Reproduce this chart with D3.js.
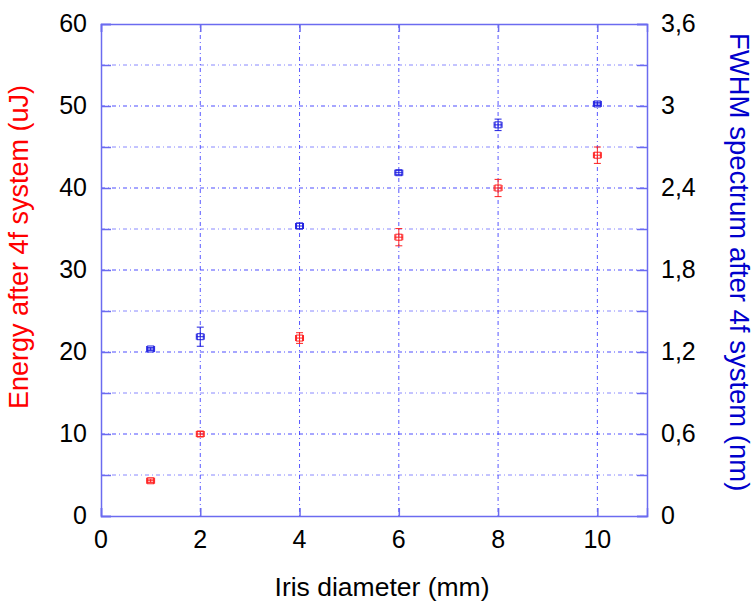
<!DOCTYPE html>
<html><head><meta charset="utf-8">
<script src="https://cdn.jsdelivr.net/npm/d3@7"></script>
<style>body{margin:0;background:#fff}</style>
</head><body>
<script>
const xVals = [1, 2, 4, 6, 8, 10];
const energy = [4.3, 10.0, 21.7, 34.0, 40.0, 44.0];
const energyErr = [0.2, 0.3, 0.65, 1.05, 1.05, 1.0];
const fwhm = [1.222, 1.312, 2.122, 2.512, 2.862, 3.015];
const fwhmErr = [0.01, 0.07, 0.02, 0.015, 0.042, 0.012];
const xErr = [0.08, 0.08, 0.08, 0.08, 0.08, 0.08];
const xTicks = [0, 2, 4, 6, 8, 10];
const leftTicks = [0, 10, 20, 30, 40, 50, 60];
const rightTicks = [0, 0.6, 1.2, 1.8, 2.4, 3.0, 3.6];
const rightTickLabels = ["0", "0,6", "1,2", "1,8", "2,4", "3", "3,6"];

const W = 755, H = 605;
const L = 101, R = 647, T = 24, B = 516;
const svg = d3.select("body").append("svg").attr("width", W).attr("height", H);
const x = d3.scaleLinear().domain([0, 11]).range([L, R]);
const yL = d3.scaleLinear().domain([0, 60]).range([B, T]);
const yR = d3.scaleLinear().domain([0, 3.6]).range([B, T]);

const gridColor = "#3a3aff";
const frameColor = "#6b6bf0";
const font = "Liberation Sans, Arial, sans-serif";

// grid
const g = svg.append("g");
const hGrid = d3.range(5, 60, 5);
g.selectAll("line.h").data(hGrid).join("line")
  .attr("x1", L).attr("x2", R).attr("y1", d => yL(d)).attr("y2", d => yL(d))
  .attr("stroke", gridColor).attr("stroke-width", 1)
  .attr("stroke-opacity", d => d % 10 === 0 ? 0.9 : 0.6)
  .attr("stroke-dasharray", "4,3,1,3");
g.selectAll("line.v").data([2, 4, 6, 8, 10]).join("line")
  .attr("x1", d => x(d)).attr("x2", d => x(d)).attr("y1", T).attr("y2", B)
  .attr("stroke", gridColor).attr("stroke-width", 1).attr("stroke-opacity", 0.85)
  .attr("stroke-dasharray", "4,3,1,3");

// axes with inward ticks
const axB = d3.axisBottom(x).tickValues(xTicks).tickSize(-8).tickFormat("");
const axT = d3.axisTop(x).tickValues(xTicks).tickSize(-8).tickFormat("");
const axL = d3.axisLeft(yL).tickValues(d3.range(0, 61, 5)).tickSize(-10).tickFormat("");
const axR = d3.axisRight(yL).tickValues(d3.range(0, 61, 5)).tickSize(-10).tickFormat("");
function styleAx(sel){
  sel.select(".domain").attr("stroke", frameColor).attr("stroke-width", 1.5);
  sel.selectAll(".tick line").attr("stroke", frameColor).attr("stroke-width", 1.5);
}
svg.append("g").attr("transform", `translate(0,${B})`).call(axB).call(styleAx);
svg.append("g").attr("transform", `translate(0,${T})`).call(axT).call(styleAx);
svg.append("g").attr("transform", `translate(${L},0)`).call(axL).call(styleAx);
svg.append("g").attr("transform", `translate(${R},0)`).call(axR).call(styleAx);

// tick labels
svg.append("g").selectAll("text").data(xTicks).join("text")
  .attr("x", d => x(d)).attr("y", 548).attr("text-anchor", "middle")
  .attr("font-family", font).attr("font-size", 25).attr("fill", "#000").text(d => d);
svg.append("g").selectAll("text").data(leftTicks).join("text")
  .attr("x", 87).attr("y", d => yL(d) + 8).attr("text-anchor", "end")
  .attr("font-family", font).attr("font-size", 25).attr("fill", "#000").text(d => d);
svg.append("g").selectAll("text").data(rightTicks).join("text")
  .attr("x", 661).attr("y", d => yR(d) + 8).attr("text-anchor", "start")
  .attr("font-family", font).attr("font-size", 25).attr("fill", "#000").text((d, i) => rightTickLabels[i]);

// axis titles
svg.append("text").attr("x", 382).attr("y", 596).attr("text-anchor", "middle")
  .attr("font-family", font).attr("font-size", 26.5).attr("fill", "#000").text("Iris diameter (mm)");
svg.append("text").attr("transform", "translate(28,85) rotate(-90)").attr("text-anchor", "end")
  .attr("font-family", font).attr("font-size", 27).attr("fill", "#ff0000").text("Energy after 4f system (uJ)");
svg.append("text").attr("transform", "translate(730,33) rotate(90)").attr("text-anchor", "start")
  .attr("font-family", font).attr("font-size", 27.5).attr("fill", "#0000cc").text("FWHM spectrum after 4f system (nm)");

// data with error bars
function drawSeries(vals, errs, yScale, color){
  const s = svg.append("g").attr("stroke", color).attr("fill", "none").attr("stroke-width", 1);
  xVals.forEach((xv, i) => {
    const cx = x(xv), cy = yScale(vals[i]);
    const y1 = yScale(vals[i] - errs[i]), y2 = yScale(vals[i] + errs[i]);
    const x1 = x(xv - xErr[i]), x2 = x(xv + xErr[i]);
    const p = d3.path();
    p.moveTo(cx, y1); p.lineTo(cx, y2);
    p.moveTo(cx - 3.5, y1); p.lineTo(cx + 3.5, y1);
    p.moveTo(cx - 3.5, y2); p.lineTo(cx + 3.5, y2);
    p.moveTo(x1, cy); p.lineTo(x2, cy);
    p.moveTo(x1, cy - 3); p.lineTo(x1, cy + 3);
    p.moveTo(x2, cy - 3); p.lineTo(x2, cy + 3);
    s.append("path").attr("d", p.toString());
    s.append("rect").attr("x", cx - 3).attr("y", cy - 3).attr("width", 6).attr("height", 6);
  });
}
drawSeries(energy, energyErr, yL, "#ff2020");
drawSeries(fwhm, fwhmErr, yR, "#2020e0");
</script>
</body></html>
